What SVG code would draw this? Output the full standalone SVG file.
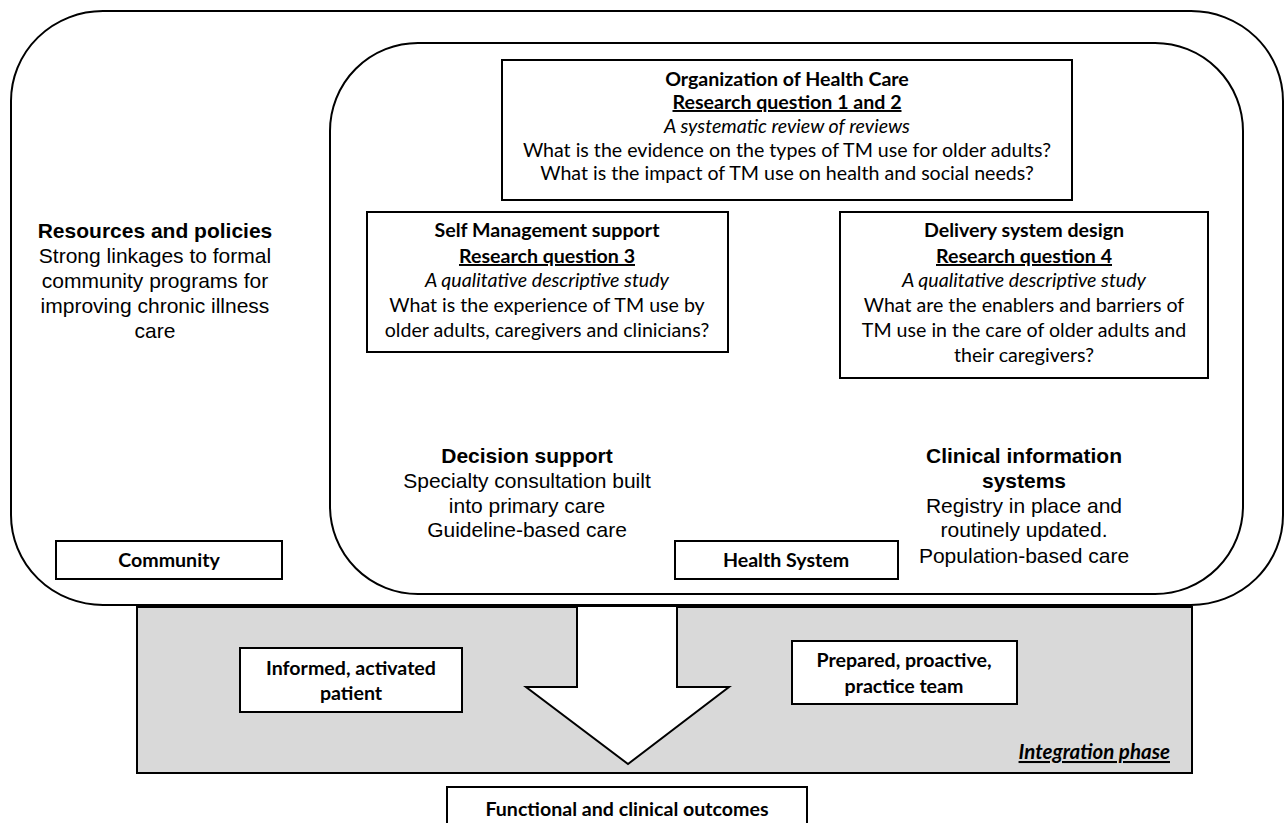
<svg xmlns="http://www.w3.org/2000/svg" width="1284" height="823" viewBox="0 0 1284 823">
<style>
.frame{fill:#fff;stroke:#000;stroke-width:2}
.box{fill:#fff;stroke:#000;stroke-width:2}
.c{font-family:Lato,"Open Sans","Liberation Sans",sans-serif;font-size:19.6px;fill:#000;text-anchor:middle}
.b{font-weight:bold}
.i{font-style:italic}
.u{text-decoration:underline}
.a{font-family:"Liberation Sans",Arial,sans-serif;font-size:21px;fill:#000;text-anchor:middle}
</style>
<rect width="1284" height="823" fill="#fff"/>
<g id="community-frame">
<rect class="frame" x="11" y="11" width="1272" height="594" rx="92" ry="90"/>
</g>
<g id="health-system-frame">
<rect class="frame" x="330" y="43" width="913" height="551" rx="88" ry="88"/>
</g>
<g id="integration-phase">
<rect x="137" y="607" width="1055" height="166" fill="#d9d9d9" stroke="#000" stroke-width="2"/>
<text class="c b i u" x="1170" y="759" style="text-anchor:end;font-size:20.5px">Integration phase</text>
</g>
<g id="connectors">
<path d="M577,607 L577,687 L526,687 L628,764 L729,687 L677,687 L677,607" fill="#fff" stroke="#000" stroke-width="2"/>
</g>
<g id="organization">
<rect class="box" x="502" y="60" width="570" height="140"/>
<text class="c b" x="787" y="86">Organization of Health Care</text>
<text class="c b u" x="787" y="109">Research question 1 and 2</text>
<text class="c i" x="787" y="133">A systematic review of reviews</text>
<text class="c" x="787" y="157">What is the evidence on the types of TM use for older adults?</text>
<text class="c" x="787" y="180">What is the impact of TM use on health and social needs?</text>
</g>
<g id="self-management">
<rect class="box" x="367" y="212" width="361" height="140"/>
<text class="c b" x="547" y="237">Self Management support</text>
<text class="c b u" x="547" y="263">Research question 3</text>
<text class="c i" x="547" y="287">A qualitative descriptive study</text>
<text class="c" x="547" y="312">What is the experience of TM use by</text>
<text class="c" x="547" y="337">older adults, caregivers and clinicians?</text>
</g>
<g id="delivery">
<rect class="box" x="840" y="212" width="368" height="166"/>
<text class="c b" x="1024" y="237">Delivery system design</text>
<text class="c b u" x="1024" y="263">Research question 4</text>
<text class="c i" x="1024" y="287">A qualitative descriptive study</text>
<text class="c" x="1024" y="312">What are the enablers and barriers of</text>
<text class="c" x="1024" y="337">TM use in the care of older adults and</text>
<text class="c" x="1024" y="362">their caregivers?</text>
</g>
<g id="resources">
<text class="a b" x="155" y="238">Resources and policies</text>
<text class="a" x="155" y="263">Strong linkages to formal</text>
<text class="a" x="155" y="288">community programs for</text>
<text class="a" x="155" y="313">improving chronic illness</text>
<text class="a" x="155" y="338">care</text>
</g>
<g id="decision-support">
<text class="a b" x="527" y="463">Decision support</text>
<text class="a" x="527" y="488">Specialty consultation built</text>
<text class="a" x="527" y="513">into primary care</text>
<text class="a" x="527" y="537">Guideline-based care</text>
</g>
<g id="clinical-info">
<text class="a b" x="1024" y="463">Clinical information</text>
<text class="a b" x="1024" y="488">systems</text>
<text class="a" x="1024" y="513">Registry in place and</text>
<text class="a" x="1024" y="537">routinely updated.</text>
<text class="a" x="1024" y="563">Population-based care</text>
</g>
<g id="community">
<rect class="box" x="56" y="541" width="226" height="38"/>
<text class="c b" x="169" y="567">Community</text>
</g>
<g id="health-system">
<rect class="box" x="675" y="541" width="223" height="38"/>
<text class="c b" x="786" y="567">Health System</text>
</g>
<g id="informed-patient">
<rect class="box" x="240" y="648" width="222" height="64"/>
<text class="c b" x="351" y="675">Informed, activated</text>
<text class="c b" x="351" y="700">patient</text>
</g>
<g id="prepared-team">
<rect class="box" x="792" y="641" width="225" height="63"/>
<text class="c b" x="904" y="667">Prepared, proactive,</text>
<text class="c b" x="904" y="693">practice team</text>
</g>
<g id="outcomes">
<rect class="box" x="447" y="787" width="360" height="40"/>
<text class="c b" x="627" y="816">Functional and clinical outcomes</text>
</g>
</svg>
